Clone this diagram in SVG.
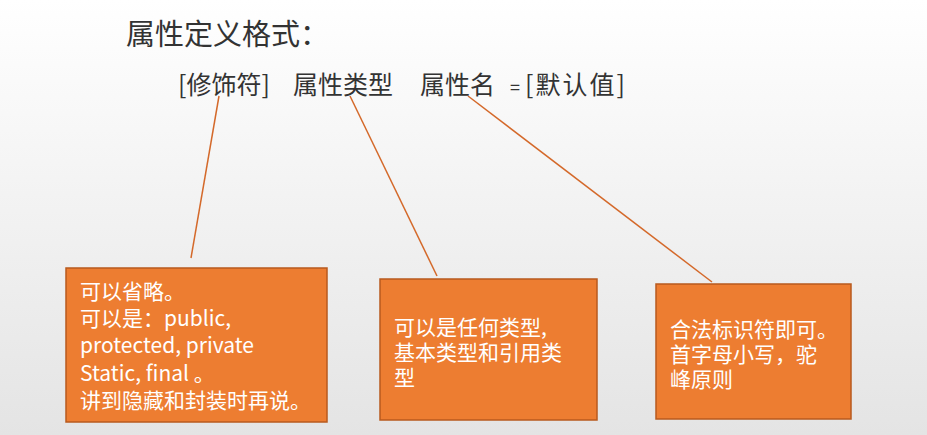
<svg xmlns="http://www.w3.org/2000/svg" width="927" height="435" viewBox="0 0 927 435">
<defs>
<linearGradient id="bg" x1="0" y1="0" x2="0" y2="1"><stop offset="0" stop-color="#ffffff"/><stop offset="1" stop-color="#e4e4e4"/></linearGradient>
<style>
.t{font-family:"Noto Sans CJK SC","Liberation Sans",sans-serif;fill:#333}
.box{fill:#ED7D31;stroke:#B85A1E;stroke-width:1.5}
.bt{font-family:"Noto Sans CJK SC","Open Sans",sans-serif;fill:#fff;font-size:21px}
.ln{stroke:#D4692A;stroke-width:1.5;fill:none}
</style>
</defs>
<rect width="927" height="435" fill="url(#bg)"/>
<text class="t" x="126" y="45" font-size="29">属性定义格式：</text>
<text class="t" x="178" y="94" font-size="25" textLength="92">[修饰符]</text>
<text class="t" x="293" y="94" font-size="25">属性类型</text>
<text class="t" x="420" y="94" font-size="25">属性名</text>
<text class="t" x="510" y="94" font-size="18">=</text>
<text class="t" x="525" y="94" font-size="25" textLength="100">[默认值]</text>
<g id="connectors">
<line class="ln" x1="219" y1="96" x2="191" y2="258"/>
<line class="ln" x1="350" y1="96" x2="437" y2="276"/>
<line class="ln" x1="468" y1="96" x2="712" y2="282"/>
</g>
<g id="box1"><rect class="box" x="66" y="268" width="261" height="154"/>
<text class="bt" x="80" y="299">可以省略。</text>
<text class="bt" x="80" y="326">可以是：public,</text>
<text class="bt" x="80" y="353">protected, private</text>
<text class="bt" x="80" y="381">Static, final 。</text>
<text class="bt" x="80" y="408">讲到隐藏和封装时再说。</text></g>
<g id="box2"><rect class="box" x="380" y="279" width="217" height="141"/>
<text class="bt" x="394" y="335">可以是任何类型,</text>
<text class="bt" x="394" y="360">基本类型和引用类</text>
<text class="bt" x="394" y="385">型</text></g>
<g id="box3"><rect class="box" x="656" y="284" width="195" height="135"/>
<text class="bt" x="670" y="337">合法标识符即可。</text>
<text class="bt" x="670" y="362">首字母小写，驼</text>
<text class="bt" x="670" y="387">峰原则</text></g>
</svg>
